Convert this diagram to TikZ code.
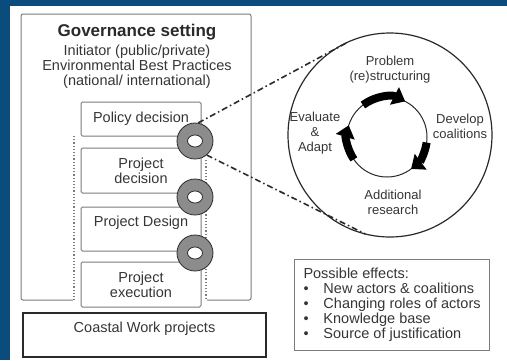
\documentclass[tikz,border=0pt]{standalone}
\usepackage{fontspec}
\setmainfont{Liberation Sans}
\usetikzlibrary{positioning, calc, arrows.meta}
\definecolor{Sfondo}{HTML}{0A4D7C}
\definecolor{Testo}{HTML}{363636}
\definecolor{Bordo}{HTML}{7C7C7C}
\definecolor{Anello}{HTML}{8C8C8C}
\definecolor{Scuro}{HTML}{2A2A2A}
\tikzset{
    fasebox/.style={rectangle, rounded corners=1.5pt, draw=Bordo, line width=1pt, fill=white, minimum width=120pt, text=Testo, align=center, font=\fontsize{14.5}{15}\selectfont},
    anello/.style={circle, minimum size=36pt, inner sep=0pt, fill=Anello, draw=Scuro, line width=0.8pt},
    etichetta/.style={text=Testo, align=center, font=\fontsize{13}{15}\selectfont},
    freccia/.style={line width=8pt, -{Triangle[length=12pt, width=19pt]}, black},
    zoomlinea/.style={Scuro, line width=1.6pt, dash pattern=on 6pt off 3pt on 1.5pt off 3pt},
}

\begin{document}
\begin{tikzpicture}[x=1pt, y=-1pt]
    \useasboundingbox (0,0) rectangle (507,360);
    % Sfondo
    \fill[Sfondo] (0,0) rectangle (507,360);
    \fill[white] (10,6) rectangle (507,360);

    % Contesto di governance
    \draw[Bordo, line width=1pt, rounded corners=2pt] (73,300) -- (21,300) -- (21,14) -- (251,14) -- (251,300) -- (207,300);
    \node[text=Scuro, font=\fontsize{17}{18}\selectfont\bfseries] (titolo) at (137,32) {Governance setting};
    \node[text=Testo, align=center, font=\fontsize{14.5}{15}\selectfont] (contesto) at (137,67) {Initiator (public/private)\\Environmental Best Practices\\(national/ international)};
    \draw[Bordo, dotted, line width=1.2pt] (74,136) -- (74,300);
    \draw[Bordo, dotted, line width=1.2pt] (206,160) -- (206,300);

    % Fasi del progetto
    \node[fasebox, minimum height=34pt] (policy) at (141,119) {Policy decision};
    \node[fasebox, minimum height=45pt] (pdecision) at (141,170.5) {Project\\decision};
    \node[fasebox, inner sep=0pt, text height=19pt, text depth=25pt] (pdesign) at (141,229) {Project Design};
    \node[fasebox, minimum height=45pt] (pexec) at (141,284.5) {Project\\execution};

    % Anelli tra le fasi
    \foreach \i/\y in {1/141, 2/197, 3/253} {
        \node[anello] (anello\i) at (195,\y) {};
        \draw[Scuro, fill=white, line width=0.8pt] (anello\i.center) ellipse (7.5pt and 6pt);
    }

    % Lavori costieri
    \node[rectangle, draw=Scuro, line width=1.5pt, minimum width=243pt, inner sep=0pt, text height=19pt, text depth=25pt, text=Testo, font=\fontsize{14.5}{15}\selectfont] (coastal) at (144.5,335) {Coastal Work projects};

    % Ciclo di apprendimento
    \node[circle, draw=Scuro, line width=1.2pt, minimum size=204pt, inner sep=0pt, outer sep=0pt] (ciclo) at (390,135) {};
    \node[circle, draw=Scuro, line width=1pt, minimum size=80pt, inner sep=0pt, outer sep=0pt] (ruota) at (387,137) {};
    \draw[freccia] (ruota.127) arc[start angle=127, end angle=63, radius=40pt];
    \draw[freccia] (ruota.-8) arc[start angle=-8, end angle=-53, radius=40pt];
    \draw[freccia] (ruota.214) arc[start angle=214, end angle=163, radius=40pt];
    \node[etichetta] (problem) at (390,70) {Problem\\(re)structuring};
    \node[etichetta] (develop) at (460,126) {Develop\\coalitions};
    \node[etichetta] (research) at (393,202) {Additional\\research};
    \node[etichetta] (evaluate) at (315,133) {Evaluate\\\&\\Adapt};

    % Linee di ingrandimento
    \draw[zoomlinea] (anello1.80) -- (ciclo.114);
    \draw[zoomlinea] (anello1.-50) -- (ciclo.256);

    % Effetti possibili
    \node[rectangle, draw=Bordo, line width=1pt, anchor=west, minimum height=91pt, inner xsep=9pt, align=left, text=Testo, font=\fontsize{14.5}{15}\selectfont] (effetti) at (294,304.5) {Possible effects:\\
        \makebox[20pt][l]{\textbullet}New actors \& coalitions\\
        \makebox[20pt][l]{\textbullet}Changing roles of actors\\
        \makebox[20pt][l]{\textbullet}Knowledge base\\
        \makebox[20pt][l]{\textbullet}Source of justification};
\end{tikzpicture}
\end{document}
